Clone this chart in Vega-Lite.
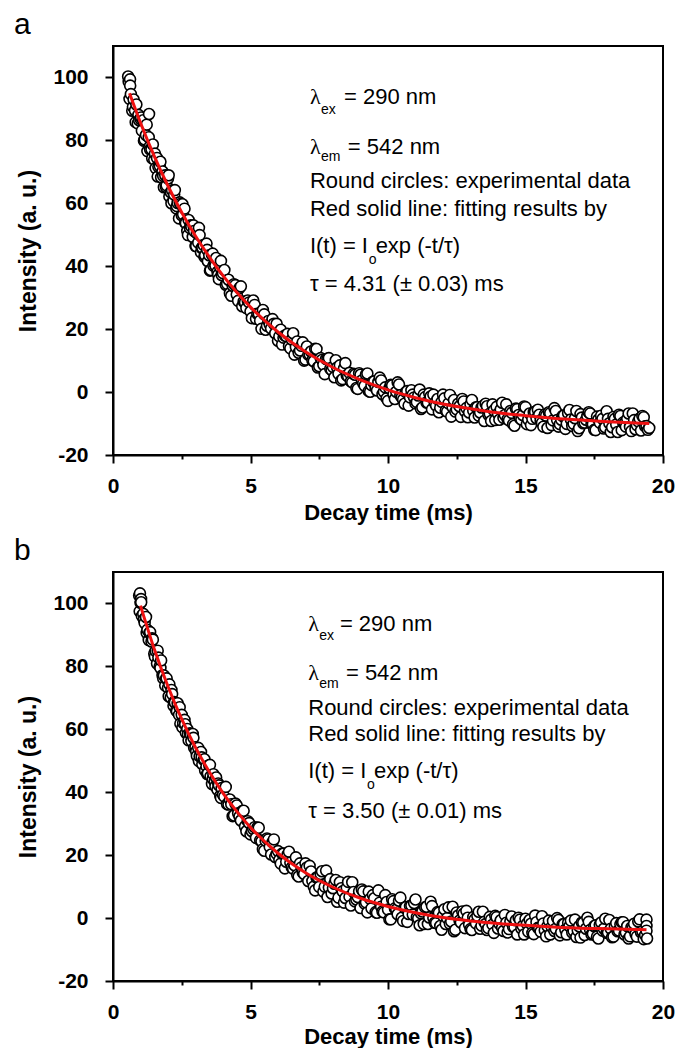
{
"$schema":"https://vega.github.io/schema/vega-lite/v6.json",
"background":"white",
"padding":{"left":13,"top":9,"right":5,"bottom":0},
"spacing":11,
"config":{"view":{"stroke":"black","strokeWidth":2},"font":"Liberation Sans"},
"datasets":{
"a_pts":[{"t":0.55,"v":100.3},{"t":0.57,"v":98.6},{"t":0.62,"v":99.4},{"t":0.6,"v":93.2},{"t":0.65,"v":94.7},{"t":0.7,"v":89.4},{"t":0.75,"v":93.0},{"t":0.8,"v":89.5},{"t":0.85,"v":91.4},{"t":0.9,"v":85.4},{"t":0.95,"v":86.4},{"t":1.0,"v":86.8},{"t":1.05,"v":83.1},{"t":1.1,"v":86.4},{"t":1.15,"v":80.3},{"t":1.2,"v":81.7},{"t":1.25,"v":76.6},{"t":1.3,"v":81.0},{"t":1.35,"v":77.1},{"t":1.4,"v":77.2},{"t":1.45,"v":78.7},{"t":1.5,"v":73.9},{"t":1.55,"v":71.2},{"t":1.6,"v":74.4},{"t":1.65,"v":71.6},{"t":1.7,"v":71.9},{"t":1.75,"v":68.3},{"t":1.8,"v":70.1},{"t":1.85,"v":65.1},{"t":1.9,"v":68.9},{"t":1.95,"v":65.7},{"t":2.0,"v":67.9},{"t":2.05,"v":62.2},{"t":2.1,"v":63.5},{"t":2.15,"v":64.1},{"t":2.2,"v":60.7},{"t":2.25,"v":64.2},{"t":2.3,"v":58.4},{"t":2.35,"v":60.1},{"t":2.4,"v":55.2},{"t":2.45,"v":59.8},{"t":2.5,"v":56.2},{"t":2.55,"v":56.5},{"t":2.6,"v":58.3},{"t":2.65,"v":53.7},{"t":2.7,"v":51.2},{"t":2.75,"v":54.7},{"t":2.8,"v":52.1},{"t":2.85,"v":52.6},{"t":2.9,"v":49.3},{"t":2.95,"v":51.2},{"t":3.0,"v":46.4},{"t":3.05,"v":50.5},{"t":3.1,"v":47.5},{"t":3.15,"v":49.9},{"t":3.2,"v":44.4},{"t":3.25,"v":45.9},{"t":3.3,"v":46.7},{"t":3.35,"v":43.5},{"t":3.4,"v":47.2},{"t":3.45,"v":41.6},{"t":3.5,"v":43.5},{"t":3.55,"v":38.8},{"t":3.6,"v":43.6},{"t":3.65,"v":40.2},{"t":3.7,"v":40.7},{"t":3.75,"v":42.6},{"t":3.8,"v":38.2},{"t":3.85,"v":35.9},{"t":3.9,"v":39.6},{"t":3.95,"v":37.2},{"t":4.0,"v":37.8},{"t":1.31,"v":88.4},
{"t":0.625,"v":97.4},{"t":0.725,"v":90.7},{"t":0.825,"v":85.8},{"t":0.925,"v":88.1},{"t":1.025,"v":87.3},{"t":1.125,"v":79.9},{"t":1.225,"v":85.0},{"t":1.325,"v":77.9},{"t":1.425,"v":74.3},{"t":1.525,"v":75.8},{"t":1.625,"v":68.5},{"t":1.725,"v":73.2},{"t":1.825,"v":68.7},{"t":1.925,"v":65.2},{"t":2.025,"v":68.9},{"t":2.125,"v":60.0},{"t":2.225,"v":62.8},{"t":2.325,"v":59.1},{"t":2.425,"v":60.3},{"t":2.525,"v":59.7},{"t":2.625,"v":53.9},{"t":2.725,"v":49.9},{"t":2.825,"v":53.0},{"t":2.925,"v":53.0},{"t":3.025,"v":46.4},{"t":3.125,"v":52.2},{"t":3.225,"v":45.8},{"t":3.325,"v":43.0},{"t":3.425,"v":45.2},{"t":3.525,"v":38.6},{"t":3.625,"v":44.0},{"t":3.725,"v":40.2},{"t":3.825,"v":37.3},{"t":3.925,"v":41.7},
{"t":4.1,"v":34.1},{"t":4.2,"v":35.7},{"t":4.3,"v":30.6},{"t":4.4,"v":34.3},{"t":4.5,"v":31.0},{"t":4.6,"v":33.1},{"t":4.7,"v":27.3},{"t":4.8,"v":28.5},{"t":4.9,"v":29.1},{"t":5.0,"v":25.6},{"t":5.1,"v":29.1},{"t":5.2,"v":23.3},{"t":5.3,"v":24.9},{"t":5.4,"v":20.1},{"t":5.5,"v":24.7},{"t":5.6,"v":21.1},{"t":5.7,"v":21.5},{"t":5.8,"v":23.2},{"t":5.9,"v":18.7},{"t":6.0,"v":16.3},{"t":6.1,"v":19.8},{"t":6.2,"v":17.3},{"t":6.3,"v":17.8},{"t":6.4,"v":14.6},{"t":6.5,"v":16.7},{"t":6.6,"v":11.9},{"t":6.7,"v":16.1},{"t":6.8,"v":13.2},{"t":6.9,"v":15.8},{"t":7.0,"v":10.3},{"t":7.1,"v":11.9},{"t":7.2,"v":12.9},{"t":7.3,"v":9.8},{"t":7.4,"v":13.7},{"t":7.5,"v":8.2},{"t":7.6,"v":10.2},{"t":7.7,"v":5.7},{"t":7.8,"v":10.6},{"t":7.9,"v":7.4},{"t":8.0,"v":8.0},{"t":8.1,"v":10.1},{"t":8.2,"v":5.8},{"t":8.3,"v":3.7},{"t":8.4,"v":7.5},{"t":8.5,"v":5.3},{"t":8.6,"v":6.1},{"t":8.7,"v":3.1},{"t":8.8,"v":5.5},{"t":8.9,"v":1.0},{"t":9.0,"v":5.5},{"t":9.1,"v":2.8},{"t":9.2,"v":5.6},{"t":9.3,"v":0.3},{"t":9.4,"v":2.2},{"t":9.5,"v":3.4},{"t":9.6,"v":0.5},{"t":9.7,"v":4.6},{"t":9.8,"v":-0.7},{"t":9.9,"v":1.5},{"t":10.0,"v":-2.8},{"t":10.1,"v":2.3},{"t":10.2,"v":-0.7},{"t":10.3,"v":0.1},{"t":10.4,"v":2.4},{"t":10.5,"v":-1.7},{"t":10.6,"v":-3.7},{"t":10.7,"v":0.3},{"t":10.8,"v":-1.7},{"t":10.9,"v":-0.8},{"t":11.0,"v":-3.6},{"t":11.1,"v":-1.1},{"t":11.2,"v":-5.4},{"t":11.3,"v":-0.8},{"t":11.4,"v":-3.3},{"t":11.5,"v":-0.4},{"t":11.6,"v":-5.5},{"t":11.7,"v":-3.5},{"t":11.8,"v":-2.2},{"t":11.9,"v":-5.0},{"t":12.0,"v":-0.8},{"t":12.1,"v":-5.9},{"t":12.2,"v":-3.6},{"t":12.3,"v":-7.8},{"t":12.4,"v":-2.5},{"t":12.5,"v":-5.5},{"t":12.6,"v":-4.5},{"t":12.7,"v":-2.2},{"t":12.8,"v":-6.1},{"t":12.9,"v":-8.0},{"t":13.0,"v":-3.9},{"t":13.1,"v":-5.9},{"t":13.2,"v":-4.8},{"t":13.3,"v":-7.5},{"t":13.4,"v":-4.9},{"t":13.5,"v":-9.2},{"t":13.6,"v":-4.5},{"t":13.7,"v":-6.9},{"t":13.8,"v":-3.9},{"t":13.9,"v":-8.9},{"t":14.0,"v":-6.9},{"t":14.1,"v":-5.5},{"t":14.2,"v":-8.2},{"t":14.3,"v":-3.9},{"t":14.4,"v":-9.0},{"t":14.5,"v":-6.6},{"t":14.6,"v":-10.7},{"t":14.7,"v":-5.4},{"t":14.8,"v":-8.3},{"t":14.9,"v":-7.3},{"t":15.0,"v":-4.8},{"t":15.1,"v":-8.7},{"t":15.2,"v":-10.5},{"t":15.3,"v":-6.4},{"t":15.4,"v":-8.3},{"t":15.5,"v":-7.2},{"t":15.6,"v":-9.8},{"t":15.7,"v":-7.2},{"t":15.8,"v":-11.4},{"t":15.9,"v":-6.7},{"t":16.0,"v":-9.0},{"t":16.1,"v":-6.0},{"t":16.2,"v":-11.0},{"t":16.3,"v":-8.8},{"t":16.4,"v":-7.4},{"t":16.5,"v":-10.1},{"t":16.6,"v":-5.7},{"t":16.7,"v":-10.8},{"t":16.8,"v":-8.3},{"t":16.9,"v":-12.4},{"t":17.0,"v":-7.0},{"t":17.1,"v":-9.9},{"t":17.2,"v":-8.8},{"t":17.3,"v":-6.4},{"t":17.4,"v":-10.2},{"t":17.5,"v":-12.0},{"t":17.6,"v":-7.8},{"t":17.7,"v":-9.7},{"t":17.8,"v":-8.5},{"t":17.9,"v":-11.2},{"t":18.0,"v":-8.5},{"t":18.1,"v":-12.7},{"t":18.2,"v":-7.9},{"t":18.3,"v":-10.3},{"t":18.4,"v":-7.2},{"t":18.5,"v":-12.1},{"t":18.6,"v":-10.0},{"t":18.7,"v":-8.5},{"t":18.8,"v":-11.1},{"t":18.9,"v":-6.8},{"t":19.0,"v":-11.8},{"t":19.1,"v":-9.3},{"t":19.2,"v":-12.2},{"t":19.3,"v":-8.0},{"t":19.4,"v":-10.8},{"t":19.5,"v":-11.4},
{"t":4.05,"v":38.8},{"t":4.15,"v":34.4},{"t":4.25,"v":31.4},{"t":4.35,"v":33.8},{"t":4.45,"v":34.0},{"t":4.55,"v":29.0},{"t":4.65,"v":33.6},{"t":4.75,"v":28.8},{"t":4.85,"v":26.7},{"t":4.95,"v":28.5},{"t":5.05,"v":23.5},{"t":5.15,"v":27.7},{"t":5.25,"v":24.9},{"t":5.35,"v":22.7},{"t":5.45,"v":26.1},{"t":5.55,"v":19.8},{"t":5.65,"v":22.6},{"t":5.75,"v":20.2},{"t":5.85,"v":21.7},{"t":5.95,"v":21.7},{"t":6.05,"v":17.7},{"t":6.15,"v":15.1},{"t":6.25,"v":18.0},{"t":6.35,"v":18.5},{"t":6.45,"v":13.9},{"t":6.55,"v":18.7},{"t":6.65,"v":14.3},{"t":6.75,"v":12.5},{"t":6.85,"v":14.7},{"t":6.95,"v":10.0},{"t":7.05,"v":14.5},{"t":7.15,"v":12.0},{"t":7.25,"v":10.1},{"t":7.35,"v":13.8},{"t":7.45,"v":7.8},{"t":7.55,"v":10.8},{"t":7.65,"v":8.7},{"t":7.75,"v":10.5},{"t":7.85,"v":10.8},{"t":7.95,"v":7.0},{"t":8.05,"v":4.7},{"t":8.15,"v":7.8},{"t":8.25,"v":8.5},{"t":8.35,"v":4.1},{"t":8.45,"v":9.2},{"t":8.55,"v":5.0},{"t":8.65,"v":3.4},{"t":8.75,"v":5.8},{"t":8.85,"v":1.3},{"t":8.95,"v":6.0},{"t":9.05,"v":3.7},{"t":9.15,"v":2.0},{"t":9.25,"v":5.9},{"t":9.35,"v":0.1},{"t":9.45,"v":3.3},{"t":9.55,"v":1.3},{"t":9.65,"v":3.2},{"t":9.75,"v":3.7},{"t":9.85,"v":0.1},{"t":9.95,"v":-2.0},{"t":10.05,"v":1.2},{"t":10.15,"v":2.1},{"t":10.25,"v":-2.2},{"t":10.35,"v":3.1},{"t":10.45,"v":-1.0},{"t":10.55,"v":-2.4},{"t":10.65,"v":0.0},{"t":10.75,"v":-4.3},{"t":10.85,"v":0.6},{"t":10.95,"v":-1.7},{"t":11.05,"v":-3.2},{"t":11.15,"v":0.8},{"t":11.25,"v":-4.9},{"t":11.35,"v":-1.6},{"t":11.45,"v":-3.4},{"t":11.55,"v":-1.4},{"t":11.65,"v":-0.8},{"t":11.75,"v":-4.3},{"t":11.85,"v":-6.4},{"t":11.95,"v":-3.1},{"t":12.05,"v":-2.0},{"t":12.15,"v":-6.2},{"t":12.25,"v":-0.9},{"t":12.35,"v":-4.8},{"t":12.45,"v":-6.2},{"t":12.55,"v":-3.7},{"t":12.65,"v":-7.9},{"t":12.75,"v":-3.0},{"t":12.85,"v":-5.1},{"t":12.95,"v":-6.5},{"t":13.05,"v":-2.5},{"t":13.15,"v":-8.1},{"t":13.25,"v":-4.8},{"t":13.35,"v":-6.5},{"t":13.45,"v":-4.4},{"t":13.55,"v":-3.7},{"t":13.65,"v":-7.2},{"t":13.75,"v":-9.2},{"t":13.85,"v":-5.8},{"t":13.95,"v":-4.7},{"t":14.05,"v":-8.8},{"t":14.15,"v":-3.4},{"t":14.25,"v":-7.3},{"t":14.35,"v":-8.6},{"t":14.45,"v":-6.0},{"t":14.55,"v":-10.2},{"t":14.65,"v":-5.2},{"t":14.75,"v":-7.3},{"t":14.85,"v":-8.7},{"t":14.95,"v":-4.6},{"t":15.05,"v":-10.2},{"t":15.15,"v":-6.8},{"t":15.25,"v":-8.5},{"t":15.35,"v":-6.3},{"t":15.45,"v":-5.6},{"t":15.55,"v":-9.0},{"t":15.65,"v":-11.0},{"t":15.75,"v":-7.5},{"t":15.85,"v":-6.4},{"t":15.95,"v":-10.5},{"t":16.05,"v":-5.1},{"t":16.15,"v":-8.9},{"t":16.25,"v":-10.2},{"t":16.35,"v":-7.6},{"t":16.45,"v":-11.7},{"t":16.55,"v":-6.7},{"t":16.65,"v":-8.7},{"t":16.75,"v":-10.1},{"t":16.85,"v":-6.0},{"t":16.95,"v":-11.5},{"t":17.05,"v":-8.1},{"t":17.15,"v":-9.7},{"t":17.25,"v":-7.6},{"t":17.35,"v":-6.8},{"t":17.45,"v":-10.2},{"t":17.55,"v":-12.1},{"t":17.65,"v":-8.7},{"t":17.75,"v":-7.5},{"t":17.85,"v":-11.6},{"t":17.95,"v":-6.1},{"t":18.05,"v":-9.9},{"t":18.15,"v":-11.2},{"t":18.25,"v":-8.5},{"t":18.35,"v":-12.7},{"t":18.45,"v":-7.6},{"t":18.55,"v":-9.7},{"t":18.65,"v":-11.0},{"t":18.75,"v":-6.8},{"t":18.85,"v":-12.4},{"t":18.95,"v":-8.9},{"t":19.05,"v":-10.5},{"t":19.15,"v":-8.4},{"t":19.25,"v":-7.6},{"t":19.35,"v":-10.9},{"t":19.45,"v":-12.0}],
"a_fit":[{"t":0.6,"v":95.0},{"t":1.0,"v":85.6},{"t":1.5,"v":75.0},{"t":2.0,"v":65.5},{"t":2.5,"v":57.1},{"t":3.0,"v":49.6},{"t":3.5,"v":43.0},{"t":4.0,"v":37.0},{"t":4.5,"v":31.7},{"t":5.0,"v":27.0},{"t":6.0,"v":19.1},{"t":7.0,"v":12.8},{"t":8.0,"v":7.8},{"t":9.0,"v":3.9},{"t":10.0,"v":0.7},{"t":11.0,"v":-1.8},{"t":12.0,"v":-3.8},{"t":13.0,"v":-5.3},{"t":14.0,"v":-6.6},{"t":15.0,"v":-7.5},{"t":16.0,"v":-8.3},{"t":17.0,"v":-8.9},{"t":18.0,"v":-9.4},{"t":19.0,"v":-9.8},{"t":19.5,"v":-10.0}],
"b_pts":[{"t":0.95,"v":102.5},{"t":0.97,"v":97.5},{"t":0.98,"v":103.2},{"t":1.02,"v":101.4},{"t":1.0,"v":100.2},{"t":1.05,"v":96.0},{"t":1.1,"v":96.7},{"t":1.15,"v":93.8},{"t":1.2,"v":95.7},{"t":1.25,"v":91.6},{"t":1.3,"v":88.4},{"t":1.35,"v":90.9},{"t":1.4,"v":87.9},{"t":1.45,"v":88.5},{"t":1.5,"v":84.0},{"t":1.55,"v":84.9},{"t":1.6,"v":80.9},{"t":1.65,"v":82.8},{"t":1.7,"v":80.0},{"t":1.75,"v":81.9},{"t":1.8,"v":77.2},{"t":1.85,"v":77.1},{"t":1.9,"v":73.9},{"t":1.95,"v":76.2},{"t":2.0,"v":73.2},{"t":2.05,"v":74.3},{"t":2.1,"v":70.1},{"t":2.15,"v":71.2},{"t":2.2,"v":67.5},{"t":2.25,"v":68.5},{"t":2.3,"v":66.0},{"t":2.35,"v":68.3},{"t":2.4,"v":64.6},{"t":2.45,"v":61.8},{"t":2.5,"v":64.6},{"t":2.55,"v":62.1},{"t":2.6,"v":63.0},{"t":2.65,"v":58.9},{"t":2.7,"v":60.1},{"t":2.75,"v":56.5},{"t":2.8,"v":58.7},{"t":2.85,"v":56.3},{"t":2.9,"v":58.5},{"t":2.95,"v":54.1},{"t":3.0,"v":54.3},{"t":3.05,"v":51.5},{"t":3.1,"v":54.1},{"t":3.15,"v":51.4},{"t":3.2,"v":52.8},{"t":3.25,"v":48.9},{"t":3.3,"v":50.3},{"t":3.35,"v":46.9},{"t":3.4,"v":48.2},{"t":3.45,"v":46.0},{"t":3.5,"v":48.6},{"t":3.55,"v":45.1},{"t":3.6,"v":42.6},{"t":3.65,"v":45.7},{"t":3.7,"v":43.4},{"t":3.75,"v":44.7},{"t":3.8,"v":40.8},{"t":3.85,"v":42.2},{"t":3.9,"v":38.9},{"t":3.95,"v":41.3},{"t":4.0,"v":39.2},
{"t":1.025,"v":100.4},{"t":1.125,"v":94.9},{"t":1.225,"v":90.6},{"t":1.325,"v":90.6},{"t":1.425,"v":88.9},{"t":1.525,"v":83.1},{"t":1.625,"v":85.0},{"t":1.725,"v":79.5},{"t":1.825,"v":76.2},{"t":1.925,"v":76.1},{"t":2.025,"v":70.5},{"t":2.125,"v":72.5},{"t":2.225,"v":68.7},{"t":2.325,"v":65.7},{"t":2.425,"v":67.0},{"t":2.525,"v":60.6},{"t":2.625,"v":61.6},{"t":2.725,"v":58.4},{"t":2.825,"v":58.4},{"t":2.925,"v":57.3},{"t":3.025,"v":53.0},{"t":3.125,"v":49.9},{"t":3.225,"v":51.1},{"t":3.325,"v":50.5},{"t":3.425,"v":45.8},{"t":3.525,"v":48.7},{"t":3.625,"v":44.3},{"t":3.725,"v":41.9},{"t":3.825,"v":42.8},{"t":3.925,"v":38.2},
{"t":4.1,"v":41.7},{"t":4.2,"v":36.1},{"t":4.3,"v":36.2},{"t":4.4,"v":32.6},{"t":4.5,"v":35.8},{"t":4.6,"v":32.3},{"t":4.7,"v":34.0},{"t":4.8,"v":29.1},{"t":4.9,"v":30.8},{"t":5.0,"v":26.6},{"t":5.1,"v":28.3},{"t":5.2,"v":25.5},{"t":5.3,"v":28.7},{"t":5.4,"v":24.4},{"t":5.5,"v":21.4},{"t":5.6,"v":25.3},{"t":5.7,"v":22.6},{"t":5.8,"v":24.1},{"t":5.9,"v":19.4},{"t":6.0,"v":21.3},{"t":6.1,"v":17.3},{"t":6.2,"v":20.5},{"t":6.3,"v":17.9},{"t":6.4,"v":21.1},{"t":6.5,"v":16.1},{"t":6.6,"v":16.8},{"t":6.7,"v":13.7},{"t":6.8,"v":17.4},{"t":6.9,"v":14.5},{"t":7.0,"v":17.4},{"t":7.1,"v":11.8},{"t":7.2,"v":14.8},{"t":7.3,"v":10.0},{"t":7.4,"v":12.9},{"t":7.5,"v":9.9},{"t":7.6,"v":14.9},{"t":7.7,"v":10.0},{"t":7.8,"v":6.7},{"t":7.9,"v":12.4},{"t":8.0,"v":9.5},{"t":8.1,"v":12.1},{"t":8.2,"v":6.5},{"t":8.3,"v":9.5},{"t":8.4,"v":4.9},{"t":8.5,"v":9.6},{"t":8.6,"v":6.8},{"t":8.7,"v":11.4},{"t":8.8,"v":5.3},{"t":8.9,"v":6.7},{"t":9.0,"v":3.2},{"t":9.1,"v":8.5},{"t":9.2,"v":5.0},{"t":9.3,"v":8.4},{"t":9.4,"v":3.1},{"t":9.5,"v":6.3},{"t":9.6,"v":1.7},{"t":9.7,"v":4.9},{"t":9.8,"v":2.1},{"t":9.9,"v":7.3},{"t":10.0,"v":2.7},{"t":10.1,"v":-0.4},{"t":10.2,"v":5.4},{"t":10.3,"v":2.7},{"t":10.4,"v":5.5},{"t":10.5,"v":0.1},{"t":10.6,"v":3.3},{"t":10.7,"v":-1.2},{"t":10.8,"v":3.8},{"t":10.9,"v":1.1},{"t":11.0,"v":5.9},{"t":11.1,"v":-0.1},{"t":11.2,"v":1.5},{"t":11.3,"v":-1.9},{"t":11.4,"v":3.6},{"t":11.5,"v":0.2},{"t":11.6,"v":3.8},{"t":11.7,"v":-1.5},{"t":11.8,"v":1.9},{"t":11.9,"v":-2.5},{"t":12.0,"v":0.7},{"t":12.1,"v":-1.9},{"t":12.2,"v":3.4},{"t":12.3,"v":-1.1},{"t":12.4,"v":-4.2},{"t":12.5,"v":1.8},{"t":12.6,"v":-0.8},{"t":12.7,"v":2.1},{"t":12.8,"v":-3.2},{"t":12.9,"v":0.1},{"t":13.0,"v":-3.5},{"t":13.1,"v":0.3},{"t":13.2,"v":-1.7},{"t":13.3,"v":2.0},{"t":13.4,"v":-2.4},{"t":13.5,"v":-1.2},{"t":13.6,"v":-3.8},{"t":13.7,"v":0.4},{"t":13.8,"v":-2.1},{"t":13.9,"v":0.7},{"t":14.0,"v":-3.3},{"t":14.1,"v":-0.7},{"t":14.2,"v":-4.1},{"t":14.3,"v":-1.5},{"t":14.4,"v":-3.5},{"t":14.5,"v":0.5},{"t":14.6,"v":-2.9},{"t":14.7,"v":-5.2},{"t":14.8,"v":-0.5},{"t":14.9,"v":-2.5},{"t":15.0,"v":-0.2},{"t":15.1,"v":-4.3},{"t":15.2,"v":-1.8},{"t":15.3,"v":-5.1},{"t":15.4,"v":-1.3},{"t":15.5,"v":-3.2},{"t":15.6,"v":0.6},{"t":15.7,"v":-3.9},{"t":15.8,"v":-2.6},{"t":15.9,"v":-5.2},{"t":16.0,"v":-0.9},{"t":16.1,"v":-3.4},{"t":16.2,"v":-0.6},{"t":16.3,"v":-4.5},{"t":16.4,"v":-1.9},{"t":16.5,"v":-5.2},{"t":16.6,"v":-2.6},{"t":16.7,"v":-4.6},{"t":16.8,"v":-0.5},{"t":16.9,"v":-3.9},{"t":17.0,"v":-6.2},{"t":17.1,"v":-1.5},{"t":17.2,"v":-3.4},{"t":17.3,"v":-1.2},{"t":17.4,"v":-5.2},{"t":17.5,"v":-2.6},{"t":17.6,"v":-5.9},{"t":17.7,"v":-2.1},{"t":17.8,"v":-4.0},{"t":17.9,"v":-0.2},{"t":18.0,"v":-4.6},{"t":18.1,"v":-3.4},{"t":18.2,"v":-5.9},{"t":18.3,"v":-1.6},{"t":18.4,"v":-4.0},{"t":18.5,"v":-1.3},{"t":18.6,"v":-5.2},{"t":18.7,"v":-2.5},{"t":18.8,"v":-5.8},{"t":18.9,"v":-3.2},{"t":19.0,"v":-5.1},{"t":19.1,"v":-1.1},{"t":19.2,"v":-4.5},{"t":19.3,"v":-6.7},{"t":19.4,"v":-0.5},{"t":19.4,"v":-2.5},{"t":19.4,"v":-4.0},{"t":19.42,"v":-6.5},
{"t":4.05,"v":38.6},{"t":4.15,"v":36.2},{"t":4.25,"v":37.7},{"t":4.35,"v":32.4},{"t":4.45,"v":36.4},{"t":4.55,"v":33.3},{"t":4.65,"v":31.0},{"t":4.75,"v":34.1},{"t":4.85,"v":27.6},{"t":4.95,"v":30.2},{"t":5.05,"v":27.6},{"t":5.15,"v":28.9},{"t":5.25,"v":28.8},{"t":5.35,"v":24.7},{"t":5.45,"v":21.9},{"t":5.55,"v":24.6},{"t":5.65,"v":25.0},{"t":5.75,"v":20.2},{"t":5.85,"v":25.0},{"t":5.95,"v":20.4},{"t":6.05,"v":18.5},{"t":6.15,"v":20.5},{"t":6.25,"v":15.8},{"t":6.35,"v":20.2},{"t":6.45,"v":17.6},{"t":6.55,"v":15.7},{"t":6.65,"v":19.3},{"t":6.75,"v":13.2},{"t":6.85,"v":16.1},{"t":6.95,"v":14.0},{"t":7.05,"v":16.1},{"t":7.15,"v":16.6},{"t":7.25,"v":11.8},{"t":7.35,"v":8.8},{"t":7.45,"v":13.0},{"t":7.55,"v":14.0},{"t":7.65,"v":8.4},{"t":7.75,"v":15.1},{"t":7.85,"v":9.7},{"t":7.95,"v":7.8},{"t":8.05,"v":10.9},{"t":8.15,"v":5.2},{"t":8.25,"v":11.4},{"t":8.35,"v":8.5},{"t":8.45,"v":6.4},{"t":8.55,"v":11.5},{"t":8.65,"v":4.0},{"t":8.75,"v":8.3},{"t":8.85,"v":5.9},{"t":8.95,"v":8.5},{"t":9.05,"v":9.1},{"t":9.15,"v":4.6},{"t":9.25,"v":1.8},{"t":9.35,"v":6.1},{"t":9.45,"v":7.3},{"t":9.55,"v":1.9},{"t":9.65,"v":8.8},{"t":9.75,"v":3.6},{"t":9.85,"v":1.8},{"t":9.95,"v":5.1},{"t":10.05,"v":-0.4},{"t":10.15,"v":6.0},{"t":10.25,"v":3.1},{"t":10.35,"v":1.2},{"t":10.45,"v":6.5},{"t":10.55,"v":-0.9},{"t":10.65,"v":3.5},{"t":10.75,"v":1.3},{"t":10.85,"v":4.0},{"t":10.95,"v":4.8},{"t":11.05,"v":0.3},{"t":11.15,"v":-2.3},{"t":11.25,"v":2.1},{"t":11.35,"v":3.4},{"t":11.45,"v":-1.9},{"t":11.55,"v":5.2},{"t":11.65,"v":0.0},{"t":11.75,"v":-1.6},{"t":11.85,"v":1.7},{"t":11.95,"v":-3.7},{"t":12.05,"v":2.8},{"t":12.15,"v":0.0},{"t":12.25,"v":-1.8},{"t":12.35,"v":3.6},{"t":12.45,"v":-3.7},{"t":12.55,"v":0.8},{"t":12.65,"v":-1.4},{"t":12.75,"v":1.4},{"t":12.85,"v":2.3},{"t":12.95,"v":-2.1},{"t":13.05,"v":-3.8},{"t":13.15,"v":-0.4},{"t":13.25,"v":0.7},{"t":13.35,"v":-3.4},{"t":13.45,"v":2.0},{"t":13.55,"v":-1.9},{"t":13.65,"v":-3.2},{"t":13.75,"v":-0.5},{"t":13.85,"v":-4.7},{"t":13.95,"v":0.3},{"t":14.05,"v":-1.8},{"t":14.15,"v":-3.1},{"t":14.25,"v":1.0},{"t":14.35,"v":-4.6},{"t":14.45,"v":-1.1},{"t":14.55,"v":-2.8},{"t":14.65,"v":-0.7},{"t":14.75,"v":0.1},{"t":14.85,"v":-3.3},{"t":14.95,"v":-5.2},{"t":15.05,"v":-1.8},{"t":15.15,"v":-0.6},{"t":15.25,"v":-4.7},{"t":15.35,"v":0.8},{"t":15.45,"v":-3.1},{"t":15.55,"v":-4.3},{"t":15.65,"v":-1.7},{"t":15.75,"v":-5.8},{"t":15.85,"v":-0.8},{"t":15.95,"v":-2.8},{"t":16.05,"v":-4.1},{"t":16.15,"v":0.0},{"t":16.25,"v":-5.5},{"t":16.35,"v":-2.0},{"t":16.45,"v":-3.7},{"t":16.55,"v":-1.5},{"t":16.65,"v":-0.8},{"t":16.75,"v":-4.1},{"t":16.85,"v":-6.0},{"t":16.95,"v":-2.6},{"t":17.05,"v":-1.4},{"t":17.15,"v":-5.4},{"t":17.25,"v":0.1},{"t":17.35,"v":-3.8},{"t":17.45,"v":-5.0},{"t":17.55,"v":-2.3},{"t":17.65,"v":-6.5},{"t":17.75,"v":-1.4},{"t":17.85,"v":-3.4},{"t":17.95,"v":-4.7},{"t":18.05,"v":-0.6},{"t":18.15,"v":-6.1},{"t":18.25,"v":-2.6},{"t":18.35,"v":-4.2},{"t":18.45,"v":-2.0},{"t":18.55,"v":-1.3},{"t":18.65,"v":-4.6},{"t":18.75,"v":-6.5},{"t":18.85,"v":-3.0},{"t":18.95,"v":-1.8},{"t":19.05,"v":-5.9},{"t":19.15,"v":-0.4},{"t":19.25,"v":-4.2},{"t":19.35,"v":-5.4}],
"b_fit":[{"t":1.0,"v":99.3},{"t":1.5,"v":85.5},{"t":2.0,"v":73.6},{"t":2.5,"v":63.2},{"t":3.0,"v":54.2},{"t":3.5,"v":46.5},{"t":4.0,"v":39.7},{"t":4.5,"v":33.9},{"t":5.0,"v":28.8},{"t":6.0,"v":20.6},{"t":7.0,"v":14.4},{"t":8.0,"v":9.8},{"t":9.0,"v":6.3},{"t":10.0,"v":3.7},{"t":11.0,"v":1.7},{"t":12.0,"v":0.2},{"t":13.0,"v":-0.9},{"t":14.0,"v":-1.7},{"t":15.0,"v":-2.3},{"t":16.0,"v":-2.8},{"t":17.0,"v":-3.2},{"t":18.0,"v":-3.4},{"t":19.0,"v":-3.6},{"t":19.4,"v":-3.7}],
"one":[{"k":1}]
},
"vconcat":[
{
"title":{"text":"a","anchor":"start","frame":"group","font":"Liberation Sans","fontSize":30,"fontWeight":"normal","color":"black","dx":-99,"offset":6},
"width":550,"height":409,
"layer":[
{"data":{"name":"a_pts"},"mark":{"type":"point","shape":"circle","filled":true,"fill":"white","stroke":"black","strokeWidth":1.6,"size":120,"opacity":1},
"encoding":{
"x":{"field":"t","type":"quantitative","scale":{"domain":[0,20],"nice":false,"zero":false},
"axis":{"values":[0,2.5,5,7.5,10,12.5,15,17.5,20],"labelExpr":"datum.value % 5 === 0 ? '' + datum.value : ''","tickSize":{"condition":{"test":"datum.value % 5 === 0","value":8},"value":4},"tickWidth":2,"tickColor":"black","domainColor":"black","domainWidth":2,"labelFont":"Liberation Sans","labelFontSize":21,"labelFontWeight":"bold","labelColor":"black","labelPadding":12,"labelOverlap":false,"labelFlush":false,"title":"Decay time (ms)","titleFont":"Liberation Sans","titleFontSize":22,"titleFontWeight":"bold","titleColor":"black","titlePadding":6,"grid":false}},
"y":{"field":"v","type":"quantitative","scale":{"domain":[-20,110],"nice":false,"zero":false},
"axis":{"values":[-20,-10,0,10,20,30,40,50,60,70,80,90,100],"labelExpr":"datum.value % 20 === 0 ? '' + datum.value : ''","tickSize":{"condition":{"test":"datum.value % 20 === 0","value":8},"value":4},"tickWidth":2,"tickColor":"black","domainColor":"black","domainWidth":2,"labelFont":"Liberation Sans","labelFontSize":21,"labelFontWeight":"bold","labelColor":"black","labelPadding":17,"labelOverlap":false,"labelFlush":false,"title":"Intensity (a. u.)","titleFont":"Liberation Sans","titleFontSize":23,"titleFontWeight":"bold","titleColor":"black","titlePadding":12,"grid":false}},
"order":{"field":"t","type":"quantitative"}}},
{"data":{"name":"a_fit"},"mark":{"type":"line","color":"#ee1111","strokeWidth":3,"interpolate":"monotone"},
"encoding":{"x":{"field":"t","type":"quantitative","title":"Decay time (ms)"},"y":{"field":"v","type":"quantitative","title":"Intensity (a. u.)"}}},
{"data":{"name":"one"},"mark":{"type":"text","text":"λ","font":"Liberation Serif","fontSize":22,"align":"left","baseline":"alphabetic","color":"black"},"encoding":{"x":{"datum":7.16,"type":"quantitative"},"y":{"datum":91.5,"type":"quantitative"}}},
{"data":{"name":"one"},"mark":{"type":"text","text":"ex","font":"Liberation Sans","fontSize":14,"align":"left","baseline":"alphabetic","color":"black"},"encoding":{"x":{"datum":7.56,"type":"quantitative"},"y":{"datum":88.4,"type":"quantitative"}}},
{"data":{"name":"one"},"mark":{"type":"text","text":"= 290 nm","font":"Liberation Sans","fontSize":22,"align":"left","baseline":"alphabetic","color":"black"},"encoding":{"x":{"datum":8.4,"type":"quantitative"},"y":{"datum":91.5,"type":"quantitative"}}},
{"data":{"name":"one"},"mark":{"type":"text","text":"λ","font":"Liberation Serif","fontSize":22,"align":"left","baseline":"alphabetic","color":"black"},"encoding":{"x":{"datum":7.16,"type":"quantitative"},"y":{"datum":75.7,"type":"quantitative"}}},
{"data":{"name":"one"},"mark":{"type":"text","text":"em","font":"Liberation Sans","fontSize":14,"align":"left","baseline":"alphabetic","color":"black"},"encoding":{"x":{"datum":7.56,"type":"quantitative"},"y":{"datum":73.4,"type":"quantitative"}}},
{"data":{"name":"one"},"mark":{"type":"text","text":"= 542 nm","font":"Liberation Sans","fontSize":22,"align":"left","baseline":"alphabetic","color":"black"},"encoding":{"x":{"datum":8.54,"type":"quantitative"},"y":{"datum":75.7,"type":"quantitative"}}},
{"data":{"name":"one"},"mark":{"type":"text","text":"Round circles: experimental data","font":"Liberation Sans","fontSize":22,"align":"left","baseline":"alphabetic","color":"black"},"encoding":{"x":{"datum":7.16,"type":"quantitative"},"y":{"datum":64.9,"type":"quantitative"}}},
{"data":{"name":"one"},"mark":{"type":"text","text":"Red solid line: fitting results by","font":"Liberation Sans","fontSize":22,"align":"left","baseline":"alphabetic","color":"black"},"encoding":{"x":{"datum":7.16,"type":"quantitative"},"y":{"datum":56.0,"type":"quantitative"}}},
{"data":{"name":"one"},"mark":{"type":"text","text":"I(t) = I","font":"Liberation Sans","fontSize":22,"align":"left","baseline":"alphabetic","color":"black"},"encoding":{"x":{"datum":7.16,"type":"quantitative"},"y":{"datum":44.2,"type":"quantitative"}}},
{"data":{"name":"one"},"mark":{"type":"text","text":"o","font":"Liberation Sans","fontSize":14,"align":"left","baseline":"alphabetic","color":"black"},"encoding":{"x":{"datum":9.3,"type":"quantitative"},"y":{"datum":40.7,"type":"quantitative"}}},
{"data":{"name":"one"},"mark":{"type":"text","text":"exp (-t/τ)","font":"Liberation Sans","fontSize":22,"align":"left","baseline":"alphabetic","color":"black"},"encoding":{"x":{"datum":9.55,"type":"quantitative"},"y":{"datum":44.2,"type":"quantitative"}}},
{"data":{"name":"one"},"mark":{"type":"text","text":"τ = 4.31 (± 0.03) ms","font":"Liberation Sans","fontSize":22,"align":"left","baseline":"alphabetic","color":"black"},"encoding":{"x":{"datum":7.16,"type":"quantitative"},"y":{"datum":32.1,"type":"quantitative"}}}
]
},
{
"title":{"text":"b","anchor":"start","frame":"group","font":"Liberation Sans","fontSize":30,"fontWeight":"normal","color":"black","dx":-99,"offset":6},
"width":550,"height":409,
"layer":[
{"data":{"name":"b_pts"},"mark":{"type":"point","shape":"circle","filled":true,"fill":"white","stroke":"black","strokeWidth":1.6,"size":120,"opacity":1},
"encoding":{
"x":{"field":"t","type":"quantitative","scale":{"domain":[0,20],"nice":false,"zero":false},
"axis":{"values":[0,2.5,5,7.5,10,12.5,15,17.5,20],"labelExpr":"datum.value % 5 === 0 ? '' + datum.value : ''","tickSize":{"condition":{"test":"datum.value % 5 === 0","value":8},"value":4},"tickWidth":2,"tickColor":"black","domainColor":"black","domainWidth":2,"labelFont":"Liberation Sans","labelFontSize":21,"labelFontWeight":"bold","labelColor":"black","labelPadding":12,"labelOverlap":false,"labelFlush":false,"title":"Decay time (ms)","titleFont":"Liberation Sans","titleFontSize":22,"titleFontWeight":"bold","titleColor":"black","titlePadding":4,"grid":false}},
"y":{"field":"v","type":"quantitative","scale":{"domain":[-20,110],"nice":false,"zero":false},
"axis":{"values":[-20,-10,0,10,20,30,40,50,60,70,80,90,100],"labelExpr":"datum.value % 20 === 0 ? '' + datum.value : ''","tickSize":{"condition":{"test":"datum.value % 20 === 0","value":8},"value":4},"tickWidth":2,"tickColor":"black","domainColor":"black","domainWidth":2,"labelFont":"Liberation Sans","labelFontSize":21,"labelFontWeight":"bold","labelColor":"black","labelPadding":17,"labelOverlap":false,"labelFlush":false,"title":"Intensity (a. u.)","titleFont":"Liberation Sans","titleFontSize":23,"titleFontWeight":"bold","titleColor":"black","titlePadding":12,"grid":false}},
"order":{"field":"t","type":"quantitative"}}},
{"data":{"name":"b_fit"},"mark":{"type":"line","color":"#ee1111","strokeWidth":3,"interpolate":"monotone"},
"encoding":{"x":{"field":"t","type":"quantitative","title":"Decay time (ms)"},"y":{"field":"v","type":"quantitative","title":"Intensity (a. u.)"}}},
{"data":{"name":"one"},"mark":{"type":"text","text":"λ","font":"Liberation Serif","fontSize":22,"align":"left","baseline":"alphabetic","color":"black"},"encoding":{"x":{"datum":7.1,"type":"quantitative"},"y":{"datum":91.3,"type":"quantitative"}}},
{"data":{"name":"one"},"mark":{"type":"text","text":"ex","font":"Liberation Sans","fontSize":14,"align":"left","baseline":"alphabetic","color":"black"},"encoding":{"x":{"datum":7.5,"type":"quantitative"},"y":{"datum":88.4,"type":"quantitative"}}},
{"data":{"name":"one"},"mark":{"type":"text","text":"= 290 nm","font":"Liberation Sans","fontSize":22,"align":"left","baseline":"alphabetic","color":"black"},"encoding":{"x":{"datum":8.25,"type":"quantitative"},"y":{"datum":91.3,"type":"quantitative"}}},
{"data":{"name":"one"},"mark":{"type":"text","text":"λ","font":"Liberation Serif","fontSize":22,"align":"left","baseline":"alphabetic","color":"black"},"encoding":{"x":{"datum":7.1,"type":"quantitative"},"y":{"datum":75.7,"type":"quantitative"}}},
{"data":{"name":"one"},"mark":{"type":"text","text":"em","font":"Liberation Sans","fontSize":14,"align":"left","baseline":"alphabetic","color":"black"},"encoding":{"x":{"datum":7.5,"type":"quantitative"},"y":{"datum":73.1,"type":"quantitative"}}},
{"data":{"name":"one"},"mark":{"type":"text","text":"= 542 nm","font":"Liberation Sans","fontSize":22,"align":"left","baseline":"alphabetic","color":"black"},"encoding":{"x":{"datum":8.47,"type":"quantitative"},"y":{"datum":75.7,"type":"quantitative"}}},
{"data":{"name":"one"},"mark":{"type":"text","text":"Round circles: experimental data","font":"Liberation Sans","fontSize":22,"align":"left","baseline":"alphabetic","color":"black"},"encoding":{"x":{"datum":7.1,"type":"quantitative"},"y":{"datum":64.5,"type":"quantitative"}}},
{"data":{"name":"one"},"mark":{"type":"text","text":"Red solid line: fitting results by","font":"Liberation Sans","fontSize":22,"align":"left","baseline":"alphabetic","color":"black"},"encoding":{"x":{"datum":7.1,"type":"quantitative"},"y":{"datum":56.3,"type":"quantitative"}}},
{"data":{"name":"one"},"mark":{"type":"text","text":"I(t) = I","font":"Liberation Sans","fontSize":22,"align":"left","baseline":"alphabetic","color":"black"},"encoding":{"x":{"datum":7.1,"type":"quantitative"},"y":{"datum":44.5,"type":"quantitative"}}},
{"data":{"name":"one"},"mark":{"type":"text","text":"o","font":"Liberation Sans","fontSize":14,"align":"left","baseline":"alphabetic","color":"black"},"encoding":{"x":{"datum":9.24,"type":"quantitative"},"y":{"datum":41.0,"type":"quantitative"}}},
{"data":{"name":"one"},"mark":{"type":"text","text":"exp (-t/τ)","font":"Liberation Sans","fontSize":22,"align":"left","baseline":"alphabetic","color":"black"},"encoding":{"x":{"datum":9.49,"type":"quantitative"},"y":{"datum":44.5,"type":"quantitative"}}},
{"data":{"name":"one"},"mark":{"type":"text","text":"τ = 3.50 (± 0.01) ms","font":"Liberation Sans","fontSize":22,"align":"left","baseline":"alphabetic","color":"black"},"encoding":{"x":{"datum":7.1,"type":"quantitative"},"y":{"datum":31.8,"type":"quantitative"}}}
]
}
]
}
